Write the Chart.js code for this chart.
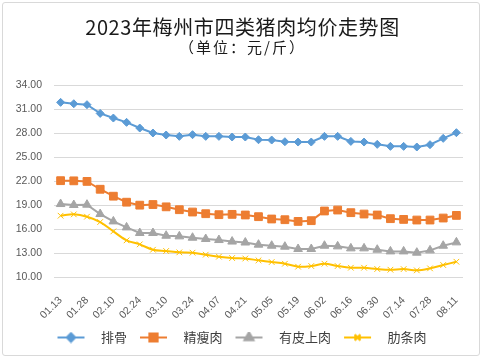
<!DOCTYPE html>
<html>
<head>
<meta charset="utf-8">
<script src="https://cdn.jsdelivr.net/npm/chart.js@4"></script>
<style>
  html, body { margin: 0; padding: 0; background: #fff; }
  #wrap { position: relative; width: 485px; height: 361px; }
  #frame { position: absolute; left: 2px; top: 2px; width: 478px; height: 354px;
           border: 1px solid #D9D9D9; border-radius: 3px; box-sizing: border-box; }
  .ttl { position: absolute; left: 0; width: 485px; text-align: center;
         font-family: "Noto Sans CJK SC", sans-serif; color: #1a1a1a; }
  #t1 { top: 14px; font-size: 20px; letter-spacing: 0.6px; line-height: 26px; }
  #t2 { top: 37px; font-size: 15px; letter-spacing: 2px; line-height: 20px; }
  canvas { position: absolute; left: 0; top: 0; }
</style>
</head>
<body>
<div id="wrap">
  <div id="frame"></div>
  <canvas id="chart" width="485" height="361"></canvas>
  <div class="ttl" id="t1">2023年梅州市四类猪肉均价走势图</div>
  <div class="ttl" id="t2">（单位：元/斤）</div>
</div>
<script>
const weeks = ['01.13', '01.20', '01.28', '02.03', '02.10', '02.17', '02.24', '03.03', '03.10', '03.17',
  '03.24', '03.31', '04.07', '04.14', '04.21', '04.28', '05.05', '05.12', '05.19', '05.26',
  '06.02', '06.09', '06.16', '06.23', '06.30', '07.07', '07.14', '07.21', '07.28', '08.04', '08.11'];

const ribs = [31.83, 31.66, 31.54, 30.45, 29.87, 29.33, 28.62, 28.00, 27.75, 27.58, 27.79, 27.58, 27.58, 27.50, 27.50,
  27.16, 27.12, 26.91, 26.87, 26.87, 27.58, 27.58, 26.95, 26.87, 26.58, 26.33, 26.33, 26.25, 26.54, 27.33, 28.04];
const lean = [22.04, 22.02, 21.95, 20.97, 20.10, 19.35, 18.98, 19.06, 18.77, 18.41, 18.12, 17.91, 17.79, 17.83, 17.75,
  17.54, 17.25, 17.16, 16.95, 17.04, 18.25, 18.37, 18.04, 17.87, 17.75, 17.29, 17.20, 17.12, 17.12, 17.37, 17.70];
const skinOn = [19.12, 19.00, 19.04, 17.87, 16.95, 16.20, 15.50, 15.50, 15.16, 15.08, 14.91, 14.75, 14.62, 14.43, 14.31,
  14.04, 13.91, 13.79, 13.50, 13.50, 13.91, 13.83, 13.58, 13.58, 13.41, 13.20, 13.20, 13.04, 13.33, 13.91, 14.33];
const belly = [17.66, 17.83, 17.54, 16.87, 15.70, 14.58, 14.08, 13.41, 13.25, 13.08, 13.04, 12.79, 12.54, 12.37, 12.31,
  12.08, 11.87, 11.66, 11.29, 11.37, 11.66, 11.37, 11.16, 11.16, 11.00, 10.91, 10.99, 10.83, 11.08, 11.50, 11.91];

const seriesNames = ['排骨', '精瘦肉', '有皮上肉', '肋条肉'];
const yTicks = [10, 13, 16, 19, 22, 25, 28, 31, 34];

const colors = ['#5B9BD5', '#ED7D31', '#A5A5A5', '#FFC000'];
const markers = ['rectRot', 'rect', 'triangle', 'crossRot'];
const radii = [4, 5.5, 5, 4];

// little line + marker picture for the legend (transparent margins give the spacing)
function legendIcon(i) {
  const c = document.createElement('canvas');
  c.width = 42; c.height = 12;
  const g = c.getContext('2d');
  g.strokeStyle = colors[i];
  g.lineWidth = 2;
  g.beginPath(); g.moveTo(5, 6); g.lineTo(32, 6); g.stroke();
  Chart.helpers.drawPoint(g, { pointStyle: markers[i], radius: radii[i], borderWidth: 1, rotation: 0 }, 18.5, 6);
  g.fillStyle = colors[i];
  g.fill();
  g.stroke();
  return c;
}

const ctx = document.getElementById('chart').getContext('2d');
const allData = [ribs, lean, skinOn, belly];

new Chart(ctx, {
  type: 'line',
  data: {
    labels: weeks,
    datasets: allData.map((d, i) => ({
      label: seriesNames[i],
      data: d,
      borderColor: colors[i],
      backgroundColor: colors[i],
      borderWidth: 2,
      pointStyle: markers[i],
      pointRadius: radii[i],
      pointBorderWidth: 1,
      pointBackgroundColor: colors[i],
      pointBorderColor: colors[i],
      tension: i === 3 ? 0.35 : 0
    }))
  },
  options: {
    responsive: false,
    animation: false,
    layout: { padding: { top: 85, left: 16, right: 22, bottom: 7 } },
    plugins: {
      legend: {
        position: 'bottom',
        labels: {
          usePointStyle: true,
          pointStyleWidth: 42,
          padding: 8,
          color: '#404040',
          font: { family: '"Noto Sans CJK SC"', size: 13 },
          generateLabels(chart) {
            const items = Chart.defaults.plugins.legend.labels.generateLabels(chart);
            items.forEach((it, i) => { it.pointStyle = legendIcon(i); });
            return items;
          }
        }
      },
      tooltip: { enabled: false }
    },
    scales: {
      x: {
        offset: true,
        grid: { display: false },
        border: { display: false },
        afterFit(axis) { axis.height = 46; },
        ticks: {
          autoSkip: false,
          minRotation: 45,
          maxRotation: 45,
          padding: 9,
          color: '#595959',
          font: { family: '"Liberation Sans"', size: 10.5 },
          callback(v, i) { return i % 2 === 0 ? weeks[i] : ''; }
        }
      },
      y: {
        min: yTicks[0],
        max: yTicks[yTicks.length - 1],
        afterBuildTicks(axis) { axis.ticks = yTicks.map(v => ({ value: v })); },
        afterFit(axis) { axis.width = 38; },
        grid: { color: '#D9D9D9', drawTicks: false },
        border: { display: false },
        ticks: {
          padding: 12,
          color: '#595959',
          font: { family: '"Liberation Sans"', size: 10.5 },
          callback: v => v.toFixed(2)
        }
      }
    }
  }
});
</script>
</body>
</html>
